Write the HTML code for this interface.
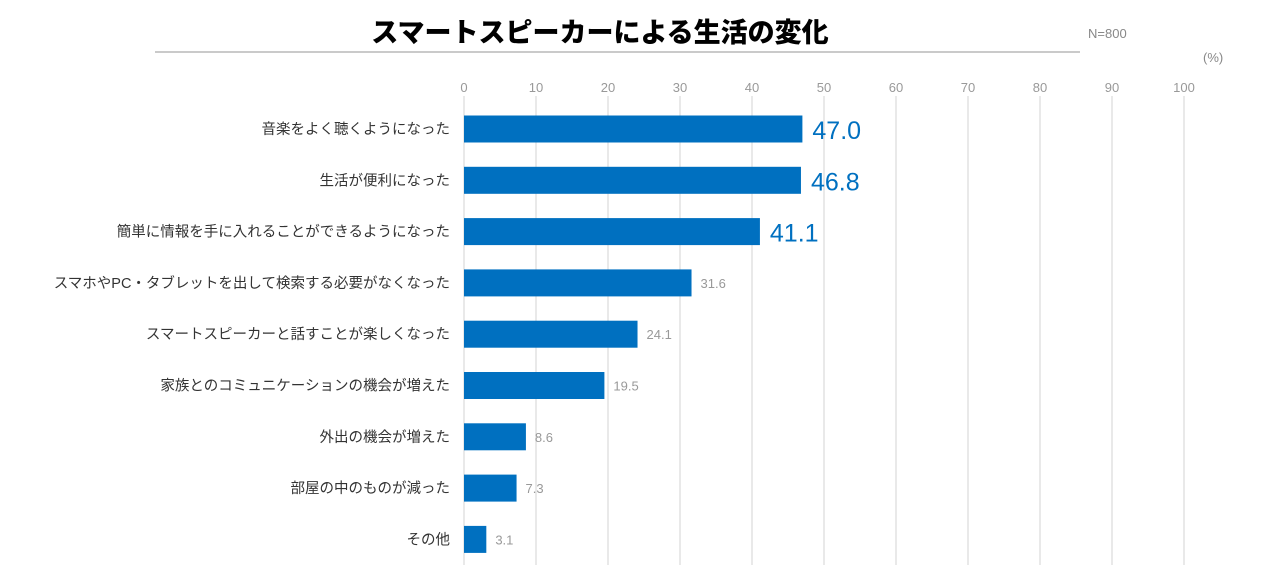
<!DOCTYPE html>
<html><head><meta charset="utf-8"><style>
body{margin:0;background:#fff;width:1280px;height:583px;overflow:hidden;font-family:"Liberation Sans","Noto Sans CJK JP",sans-serif}
</style></head><body>
<svg id="chart" width="1280" height="583">
<text x="600" y="42" text-anchor="middle" font-size="27" font-weight="bold" fill="#000" style="font-family:'Noto Sans CJK JP',sans-serif;font-weight:900">スマートスピーカーによる生活の変化</text>
<line x1="155" y1="52" x2="1080" y2="52" stroke="#aaa" stroke-width="1.2"/>
<text x="1088" y="38" font-size="13" fill="#888">N=800</text>
<text x="1203" y="62" font-size="13" fill="#888">(%)</text>
<g id="grid"></g><g id="bars"></g>
</svg>
<script>
const categories=["音楽をよく聴くようになった","生活が便利になった","簡単に情報を手に入れることができるようになった","スマホやPC・タブレットを出して検索する必要がなくなった","スマートスピーカーと話すことが楽しくなった","家族とのコミュニケーションの機会が増えた","外出の機会が増えた","部屋の中のものが減った","その他"];
const values=[47.0,46.8,41.1,31.6,24.1,19.5,8.6,7.3,3.1];
const ticks=[0,10,20,30,40,50,60,70,80,90,100];
const NS="http://www.w3.org/2000/svg";
const x=v=>464+v*7.2;
const yc=i=>129+i*51.3;
function mk(t,a,p){const e=document.createElementNS(NS,t);for(const k in a)e.setAttribute(k,a[k]);p.appendChild(e);return e;}
const g=document.getElementById('grid'),b=document.getElementById('bars');
ticks.forEach(t=>{
 const l=mk('line',{x1:x(t),x2:x(t),y1:96,y2:565,stroke:'#ddd','stroke-width':1.3},g);
 
 
 const tx=mk('text',{x:x(t),y:92,'text-anchor':'middle','font-size':13,fill:'#999'},g);
 tx.textContent=t;
 
 
});
categories.forEach((c,i)=>{
 const lab=mk('text',{x:450,y:yc(i)+5,'text-anchor':'end','font-size':14.5,fill:'#333'},b);
 lab.textContent=c;
 
 
 const r=mk('rect',{x:x(0),y:yc(i)-13.5,width:x(values[i])-x(0),height:27,fill:'#0070c0'},b);
 
 
 const big=i<3;
 const v=mk('text',{x:x(values[i])+(big?10:9),y:yc(i)+(big?10:5),'font-size':big?25:13,fill:big?'#0070c0':'#999'},b);
 v.textContent=values[i].toFixed(1);
 
 
});
</script>
</body></html>
